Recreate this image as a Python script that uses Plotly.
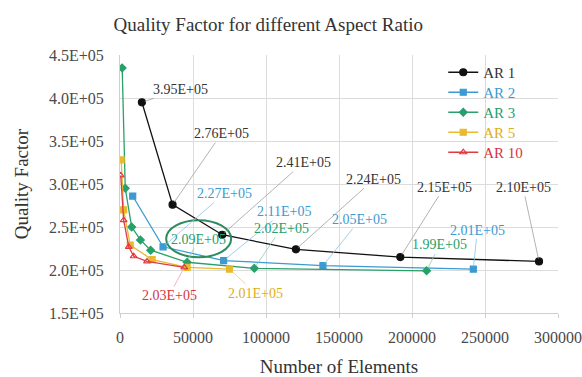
import plotly.graph_objects as go

# ---------------- data ----------------
series_names = ["AR 1", "AR 2", "AR 3", "AR 5", "AR 10"]

ar1_x = [15000, 36000, 70000, 120500, 192000, 287000]
ar1_y = [395000, 276000, 241000, 224000, 215000, 210000]

ar2_x = [8700, 29500, 71000, 139000, 242000]
ar2_y = [286000, 227000, 211000, 205000, 201000]

ar3_x = [1500, 3600, 8000, 14000, 21000, 46000, 92000, 210000]
ar3_y = [435000, 295000, 250000, 235000, 223000, 209000, 202000, 199000]

ar5_x = [800, 2500, 7000, 22000, 46000, 75000]
ar5_y = [328000, 270000, 229000, 212000, 203000, 201000]

ar10_x = [500, 2500, 6000, 9400, 18500, 44000]
ar10_y = [310000, 258000, 227000, 216000, 210000, 203000]

y_tick_vals = [150000, 200000, 250000, 300000, 350000, 400000, 450000]
y_tick_text = ["1.5E+05", "2.0E+05", "2.5E+05", "3.0E+05", "3.5E+05", "4.0E+05", "4.5E+05"]
x_tick_vals = [0, 50000, 100000, 150000, 200000, 250000, 300000]

# labelled points: (series index -> point indices)
labelled = {
    0: [0, 1, 2, 3, 4, 5],
    1: [1, 2, 3, 4],
    2: [5, 6, 7],
    3: [5],
    4: [5],
}

# ---------------- styles ----------------
FONT = "Liberation Serif, Times New Roman, Times, serif"
colors = ["#111111", "#3b9ad2", "#27a06a", "#e9b92f", "#de3b44"]
text_colors = ["#333333", "#3b9ad2", "#27a06a", "#e0ad1a", "#d8343f"]
leader_colors = ["#a0a0a0", "#8cc3e6", "#8ccfa8", "#efd27a", "#f0a0a8"]
symbols = ["circle", "square", "diamond", "square", "triangle-up-open"]
msizes = [7, 6, 6, 6, 6]

# pixel offsets of labels (text centre relative to point)
label_offsets = {
    0: [(39, -13), (49, -71), (81, -72), (78, -70), (44, -70), (-16, -74)],
    1: [(61, -53), (60, -49), (37, -46), (4, -39)],
    2: [(11, -23), (27, -40), (13, -26)],
    3: [(26, 24)],
    4: [(-15, 28)],
}

xs = [ar1_x, ar2_x, ar3_x, ar5_x, ar10_x]
ys = [ar1_y, ar2_y, ar3_y, ar5_y, ar10_y]
legend_ids = ["legend", "legend2", "legend3", "legend4", "legend5"]

fig = go.Figure()
for i, name in enumerate(series_names):
    fig.add_trace(go.Scatter(
        x=xs[i], y=ys[i], name=name, mode="lines+markers",
        legend=legend_ids[i],
        line=dict(color=colors[i], width=1.3),
        marker=dict(symbol=symbols[i], size=msizes[i], color=colors[i],
                    line=dict(color=colors[i], width=1.2)),
    ))

annotations = []
for si, idxs in labelled.items():
    for k, pi in enumerate(idxs):
        ax, ay = label_offsets[si][k]
        annotations.append(dict(
            x=xs[si][pi], y=ys[si][pi], xref="x", yref="y",
            text=f"{ys[si][pi]:.2E}", showarrow=True, arrowhead=0,
            arrowwidth=0.8, arrowcolor=leader_colors[si], standoff=3,
            ax=ax, ay=ay, font=dict(family=FONT, size=14, color=text_colors[si]),
        ))

shapes = [dict(
    type="circle", xref="x", yref="y",
    xsizemode="pixel", ysizemode="pixel",
    xanchor=ar3_x[5], yanchor=ar3_y[5],
    x0=-21, x1=44, y0=5, y1=42,
    line=dict(color="#2e8b60", width=2),
)]

legend_layout = {}
for i, lid in enumerate(legend_ids):
    legend_layout[lid] = dict(
        x=0.738, y=(313 - (56 + 20 * i)) / 258, xanchor="left", yanchor="top",
        bgcolor="rgba(255,255,255,0)",
        font=dict(family=FONT, size=15, color=text_colors[i]), itemwidth=30,
    )

fig.update_layout(
    width=582, height=377,
    margin=dict(l=120, r=24, t=55, b=64),
    paper_bgcolor="white", plot_bgcolor="white",
    font=dict(family=FONT, color="#404040"),
    title=dict(text="Quality Factor for different Aspect Ratio",
               x=0.461, xanchor="center", y=1 - 24 / 377, yanchor="middle",
               yref="container", font=dict(family=FONT, size=19, color="#333333")),
    xaxis=dict(range=[0, 300000], tickvals=x_tick_vals, tickformat="d",
               automargin=False,
               showgrid=True, gridcolor="#dcdcdc", gridwidth=1,
               showline=True, linecolor="#cfcfcf", zeroline=False,
               ticks="outside", ticklen=4, tickcolor="#cfcfcf",
               ticklabelstandoff=6,
               tickfont=dict(family=FONT, size=16, color="#4a4a4a"),
               title=dict(text="Number of Elements", standoff=19,
                          font=dict(family=FONT, size=19, color="#333333"))),
    yaxis=dict(range=[150000, 450000], tickvals=y_tick_vals, ticktext=y_tick_text,
               automargin=False,
               showgrid=True, gridcolor="#dcdcdc", gridwidth=1,
               showline=True, linecolor="#cfcfcf", zeroline=False,
               ticklabelstandoff=12,
               tickfont=dict(family=FONT, size=16, color="#4a4a4a"),
               title=dict(text="Quality Factor", standoff=15,
                          font=dict(family=FONT, size=19, color="#333333"))),
    annotations=annotations,
    shapes=shapes,
    showlegend=True,
    **legend_layout,
)

fig.write_html("out.html")
